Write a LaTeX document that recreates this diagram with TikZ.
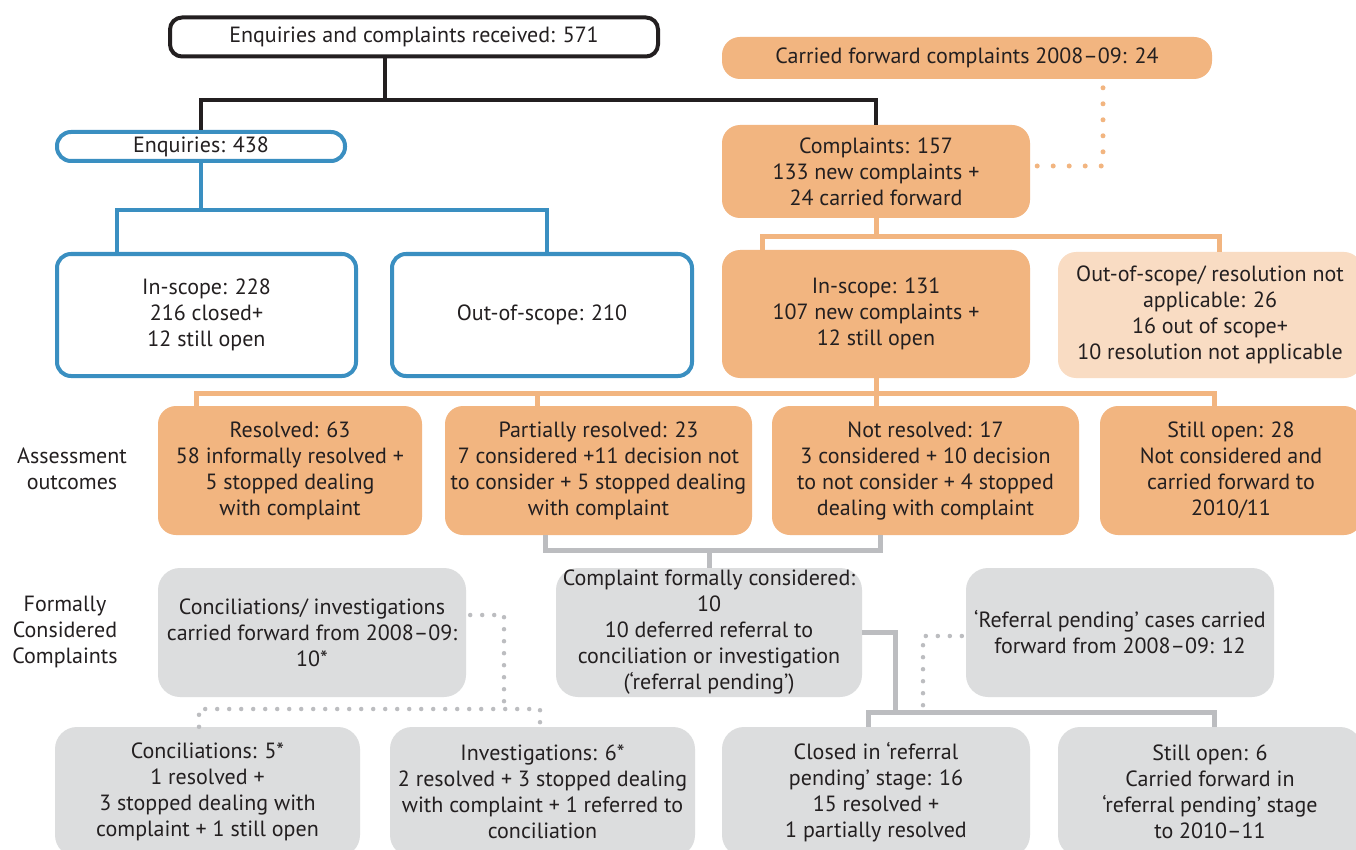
\documentclass[tikz,border=0pt]{standalone}
\usepackage{fontspec}
\setmainfont{PT Sans}
\usepackage{tikz}
\usetikzlibrary{positioning}
\definecolor{enqblue}{HTML}{3A8FC1}
\definecolor{cmporange}{HTML}{F2B580}
\definecolor{paleorange}{HTML}{F9DCC3}
\definecolor{formgrey}{HTML}{DCDDDE}
\definecolor{linegrey}{HTML}{BCBDC0}
\definecolor{inkdark}{HTML}{231F20}

\begin{document}
\begin{tikzpicture}[x=1pt, y=-1pt, font=\fontsize{22}{26}\selectfont, text=inkdark,
    box/.style={rectangle, rounded corners=18, align=center, inner sep=0pt},
    blackbox/.style={box, draw=inkdark, line width=4, fill=white,
      rounded corners=12},
    bluebox/.style={box, draw=enqblue, line width=4, fill=white,
      rounded corners=14},
    orangebox/.style={box, fill=cmporange},
    paleorangebox/.style={box, fill=paleorange},
    greybox/.style={box, fill=formgrey, rounded corners=22},
    sidelabel/.style={align=center, inner sep=0pt},
    blackline/.style={draw=inkdark, line width=4},
    blueline/.style={draw=enqblue, line width=4},
    orangeline/.style={draw=cmporange, line width=5},
    greyline/.style={draw=linegrey, line width=5},
    orangedots/.style={draw=cmporange, line width=5, line cap=round,
      dash pattern=on 0pt off 16pt},
    greydots/.style={draw=linegrey, line width=4.5, line cap=round,
      dash pattern=on 0pt off 12pt}, ]
    \clip (0,0) rectangle (1356,850);
    \fill[white] (0,0) rectangle (1356,850);
    % Nodes
    \node[blackbox, minimum width=488, minimum height=39] (received) at (414,37)
    {Enquiries and complaints received: 571};
    \node[orangebox, minimum width=490, minimum height=42] (carried) at (967,58)
    {Carried forward complaints 2008--09: 24};
    \node[bluebox, minimum width=288, minimum height=29] (enquiries) at (201,146.5)
    {Enquiries: 438};
    \node[orangebox, minimum width=308, minimum height=93] (complaints) at (876,171.5)
    {Complaints: 157\\133 new complaints +\\24 carried forward};
    \node[bluebox, minimum width=299, minimum height=122] (inscopeenq) at (206.5,315)
    {In-scope: 228\\216 closed+\\12 still open};
    \node[bluebox, minimum width=300, minimum height=122] (outscopeenq) at (542,315)
    {Out-of-scope: 210};
    \node[orangebox, minimum width=308, minimum height=128] (inscopecmp) at (876,314)
    {In-scope: 131\\107 new complaints +\\12 still open};
    \node[paleorangebox, minimum width=304, minimum height=126] (outscopecmp) at (1210,315)
    {Out-of-scope/ resolution not\\applicable: 26\\16 out of scope+\\10 resolution not applicable};
    \node[sidelabel] (assesslbl) at (72,469) {Assessment\\outcomes};
    \node[orangebox, minimum width=264, minimum height=129] (resolved) at (290,470.5)
    {Resolved: 63\\58 informally resolved +\\5 stopped dealing\\with complaint};
    \node[orangebox, minimum width=307, minimum height=129] (partial) at (598.5,470.5)
    {Partially resolved: 23\\7 considered +11 decision not\\to consider + 5 stopped dealing\\with complaint};
    \node[orangebox, minimum width=307, minimum height=129] (notresolved) at (925.5,470.5)
    {Not resolved: 17\\3 considered + 10 decision\\to not consider + 4 stopped\\dealing with complaint};
    \node[orangebox, minimum width=262, minimum height=129] (stillopen) at (1231,470.5)
    {Still open: 28\\Not considered and\\carried forward to\\2010/11};
    \node[sidelabel] (formallbl) at (65,632) {Formally\\Considered\\Complaints};
    \node[greybox, minimum width=308, minimum height=129] (carriedconc) at (312,632.5)
    {Conciliations/ investigations\\carried forward from 2008--09:\\10*};
    \node[greybox, minimum width=306, minimum height=129] (formal) at (709,632.5)
    {Complaint formally considered:\\10\\10 deferred referral to\\conciliation or investigation\\(‘referral pending’)};
    \node[greybox, minimum width=308, minimum height=129] (pendingfwd) at (1120,632.5)
    {‘Referral pending’ cases carried\\forward from 2008--09: 12};
    \node[greybox, minimum width=305, minimum height=130] (conciliations) at (207.5,792)
    {Conciliations: 5*\\1 resolved +\\3 stopped dealing with\\complaint + 1 still open};
    \node[greybox, minimum width=305, minimum height=130] (investigations) at (542.5,792)
    {Investigations: 6*\\2 resolved + 3 stopped dealing\\with complaint + 1 referred to\\conciliation};
    \node[greybox, minimum width=308, minimum height=130] (closedpending) at (876,792)
    {Closed in ‘referral\\pending’ stage: 16\\15 resolved +\\1 partially resolved};
    \node[greybox, minimum width=304, minimum height=130] (openpending) at (1210,792)
    {Still open: 6\\Carried forward in\\‘referral pending’ stage\\to 2010--11};
    % Junctions
    \coordinate (topfork) at (385,100);
    \coordinate (enqleft) at (117,210); \coordinate (enqright) at (547,210);
    \coordinate (cmpleft) at (762,237); \coordinate (cmpright) at (1219,237);
    \coordinate (asleft) at (196,393); \coordinate (asright) at (1214,393);
    \coordinate (asmid) at (537,393);
    \coordinate (frmleft) at (545,550); \coordinate (frmright) at (880,550);
    \coordinate (penddrop) at (895,712);
    \coordinate (pendleft) at (868,712); \coordinate (pendright) at (1214,712);
    \coordinate (cfwdturn) at (1103,166);
    \coordinate (concturn) at (504,615);
    \coordinate (concleft) at (199,709); \coordinate (concright) at (540,709);
    \coordinate (pendturn) at (923,636);
    % Lines
    \draw[blackline] (received.south -| topfork) -- (topfork);
    \draw[blackline] (enquiries.north) |- (topfork) -| (complaints.north);
    \draw[blueline] (enquiries.south) -- (enquiries.south |- enqleft);
    \draw[blueline] (enqleft |- inscopeenq.north) -- (enqleft) -- (enqright)
    -- (enqright |- outscopeenq.north);
    \draw[orangeline] (complaints.south) -- (complaints.south |- cmpleft);
    \draw[orangeline] (cmpleft |- inscopecmp.north) -- (cmpleft) -- (cmpright)
    -- (cmpright |- outscopecmp.north);
    \draw[orangeline] (inscopecmp.south) -- (inscopecmp.south |- asleft);
    \draw[orangeline] (asleft |- resolved.north) -- (asleft) -- (asright)
    -- (asright |- stillopen.north);
    \draw[orangeline] (asmid) -- (asmid |- partial.north);
    \draw[orangeline] (notresolved.north -| inscopecmp.south) -- (inscopecmp.south |- asleft);
    \draw[greyline] (frmleft |- partial.south) -- (frmleft) -- (frmright)
    -- (frmright |- notresolved.south);
    \draw[greyline] (formal.north) -- (formal.north |- frmleft);
    \draw[greyline] (formal.east) -| (penddrop);
    \draw[greyline] (pendleft |- closedpending.north) -- (pendleft) -- (pendright)
    -- (pendright |- openpending.north);
    \draw[orangedots, shorten >=8pt] ([xshift=7pt]complaints.east |- cfwdturn)
    -- (cfwdturn) -- (cfwdturn |- carried.south);
    \draw[greydots, shorten <=4pt] (carriedconc.east |- concturn) -- (concturn)
    -- (concturn |- concleft);
    \draw[greydots] (concleft |- conciliations.north) -- (concleft) -- (concright)
    -- (concright |- investigations.north);
    \draw[greydots, shorten <=4pt] (pendingfwd.west |- pendturn) -- (pendturn)
    -- (pendturn |- penddrop);
\end{tikzpicture}
\end{document}
